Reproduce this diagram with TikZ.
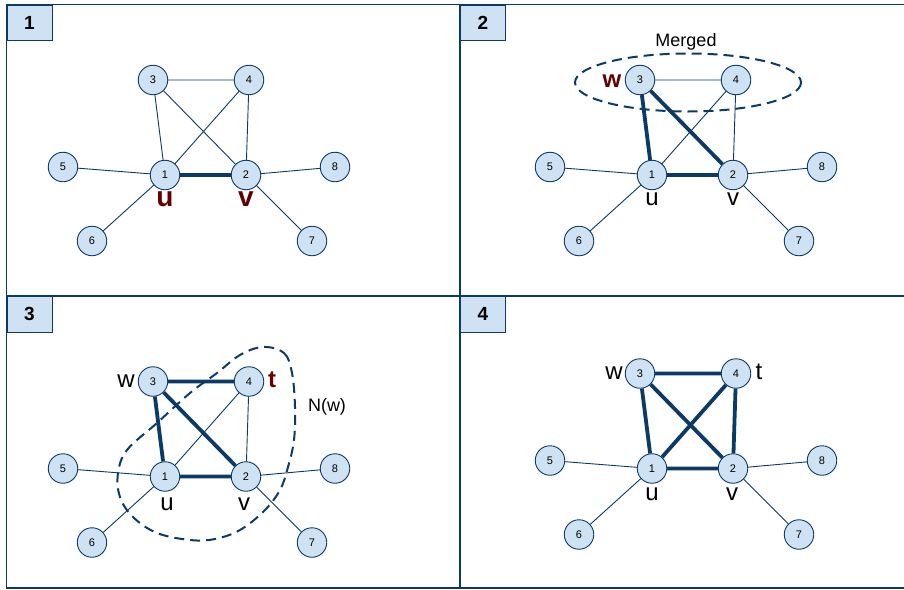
\documentclass[tikz,border=0pt]{standalone}
\usepackage{fontspec}
\setmainfont{Liberation Sans}
\definecolor{edge}{HTML}{0B3A66}
\definecolor{nfill}{HTML}{CFE2F3}
\definecolor{dred}{HTML}{660000}
\tikzset{
  vtx/.style={circle, draw=edge, fill=nfill, line width=0.9pt, minimum size=29.5pt, inner sep=0pt, font=\fontsize{11}{11}\selectfont},
  thinedge/.style={draw=edge, line width=0.9pt},
  thickedge/.style={draw=edge, line width=3.8pt},
  lbl/.style={font=\fontsize{24}{24}\selectfont, inner sep=0pt, anchor=base},
  blbl/.style={font=\bfseries\fontsize{28}{28}\selectfont, text=dred, inner sep=0pt, anchor=base},
  bwlbl/.style={font=\bfseries\fontsize{24}{24}\selectfont, text=dred, inner sep=0pt, anchor=base},
  panelbox/.style={draw=edge, fill=nfill, line width=0.9pt, minimum width=45pt, minimum height=35.5pt, inner sep=0pt, font=\bfseries\fontsize{19}{19}\selectfont},
  framestyle/.style={draw=edge, line width=1.1pt},
  dashedline/.style={draw=edge, line width=2pt, dash pattern=on 10pt off 6pt},
  captext/.style={font=\fontsize{18}{18}\selectfont, inner sep=0pt, anchor=base}
}
\newcommand{\graphnodes}[3]{%
  \begin{scope}[shift={(#1,#2)}]
    \node[vtx] (#3a) at (165,175) {1};
    \node[vtx] (#3b) at (246,175) {2};
    \node[vtx] (#3c) at (153,80) {3};
    \node[vtx] (#3d) at (249,80) {4};
    \node[vtx] (#3e) at (63,167) {5};
    \node[vtx] (#3f) at (92,241) {6};
    \node[vtx] (#3g) at (312,241) {7};
    \node[vtx] (#3h) at (335,167) {8};
  \end{scope}}
\begin{document}
\begin{tikzpicture}[x=1pt,y=-1pt]
\useasboundingbox (0,0) rectangle (904,589);
% frames
\draw[framestyle] (906,4.5) -- (6.5,4.5) -- (6.5,588) -- (906,588);
\draw[framestyle] (460,4.5) -- (460,588);
\draw[framestyle] (6.5,296) -- (906,296);
\node[panelbox, anchor=north west] (p1) at (6.5,4.5) {1};
\node[panelbox, anchor=north west] (p2) at (460,4.5) {2};
\node[panelbox, anchor=north west] (p3) at (6.5,296) {3};
\node[panelbox, anchor=north west] (p4) at (460,296) {4};

% ---------- Panel 1 ----------
\graphnodes{0}{0}{A}
\path[thinedge] (Ac) -- (Ad) (Ac) -- (Aa) (Ac) -- (Ab) (Ad) -- (Aa) (Ad) -- (Ab)
  (Aa) -- (Ae) (Aa) -- (Af) (Ab) -- (Ah) (Ab) -- (Ag);
\path[thickedge] (Aa) -- (Ab);
\node[blbl] (Au) at (165,206.5) {u};
\node[blbl] (Av) at (246,206.5) {v};

% ---------- Panel 2 ----------
\draw[dashedline] (688,82.5) ellipse [x radius=113, y radius=29];
\graphnodes{487}{0}{B}
\path[thinedge] (Bc) -- (Bd) (Bd) -- (Ba) (Bd) -- (Bb)
  (Ba) -- (Be) (Ba) -- (Bf) (Bb) -- (Bh) (Bb) -- (Bg);
\path[thickedge] (Bc) -- (Ba) (Bc) -- (Bb) (Ba) -- (Bb);
\node[bwlbl] (Bw) at (612,87) {w};
\node[lbl] (Bu) at (652,205) {u};
\node[lbl] (Bv) at (733,205) {v};
\node[captext] (mg) at (686,46) {Merged};

% ---------- Panel 3 ----------
\draw[dashedline] plot[smooth cycle, tension=0.6] coordinates {
  (263,347) (284,353) (292,373) (295,407) (294,440) (288,467) (280,490)
  (264,511) (240,530) (215,539) (190,540) (157,533) (133,517) (120,497)
  (118,473) (127,450) (157,423) (190,393) (217,373) (240,355)};
\graphnodes{0}{301.5}{C}
\path[thinedge] (Cd) -- (Ca) (Cd) -- (Cb)
  (Ca) -- (Ce) (Ca) -- (Cf) (Cb) -- (Ch) (Cb) -- (Cg);
\path[thickedge] (Cc) -- (Cd) (Cc) -- (Ca) (Cc) -- (Cb) (Ca) -- (Cb);
\node[lbl] (Cw) at (126,387) {w};
\node[bwlbl] (Ct) at (272,387) {t};
\node[lbl] (Cu) at (167,510) {u};
\node[lbl] (Cv) at (244,510) {v};
\node[captext] (nw) at (327,411.5) {N(w)};

% ---------- Panel 4 ----------
\graphnodes{487}{293.5}{D}
\path[thinedge] (Da) -- (De) (Da) -- (Df) (Db) -- (Dh) (Db) -- (Dg);
\path[thickedge] (Dc) -- (Dd) (Dc) -- (Da) (Dc) -- (Db) (Dd) -- (Da) (Dd) -- (Db) (Da) -- (Db);
\node[lbl] (Dw) at (614,379.5) {w};
\node[lbl] (Dt) at (759,379) {t};
\node[lbl] (Du) at (652,500) {u};
\node[lbl] (Dv) at (732,500) {v};
\end{tikzpicture}
\end{document}
